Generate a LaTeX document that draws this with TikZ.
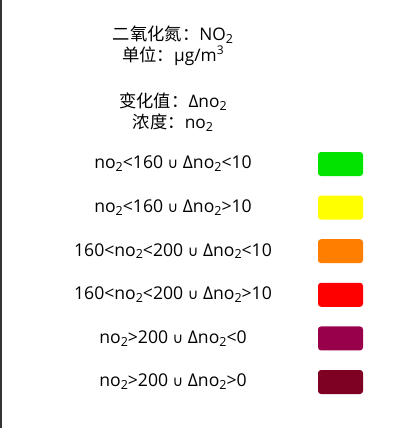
\documentclass[tikz,border=0pt]{standalone}
\usepackage{fontspec}
\setmainfont{Open Sans}
\newfontfamily\cjk{Noto Sans CJK SC}
\newfontfamily\symf{DejaVu Sans}
\usepackage{xcolor}
\usetikzlibrary{positioning}
\definecolor{lvgood}{HTML}{00E400}
\definecolor{lvfair}{HTML}{FFFF00}
\definecolor{lvlight}{HTML}{FF7E00}
\definecolor{lvmid}{HTML}{FF0000}
\definecolor{lvheavy}{HTML}{99004C}
\definecolor{lvsevere}{HTML}{7E0023}
\newcommand{\lsub}[1]{\raisebox{-0.3ex}{\fontsize{12.5}{14}\selectfont #1}}
\newcommand{\lsup}[1]{\raisebox{0.8ex}{\fontsize{12}{14}\selectfont #1}}
\newcommand{\orsym}{{\symf\fontsize{14.5}{16}\selectfont ∪}}

\begin{document}
\begin{tikzpicture}[x=1pt,y=-1pt,
    legtext/.style={inner sep=0pt, font=\fontsize{17.6}{19}\selectfont},
    headtext/.style={legtext, font=\fontsize{17.3}{19}\selectfont},
    swatch/.style={rounded corners=3pt, minimum width=45pt, minimum height=24pt, inner sep=0pt}]
  \useasboundingbox (0,0) rectangle (400,428);
  % 左の枠線
  \draw[line width=1.5pt, black!80] (1,0) -- (1,428);

  % 見出し
  \node[headtext] (head1) at (173,35) {{\cjk 二氧化氮：}NO\lsub{2}};
  \node[headtext] (head2) at (173,56) {{\cjk 单位：}μg/m\lsup{3}};
  \node[headtext] (head3) at (173,102) {{\cjk 变化值：}Δno\lsub{2}};
  \node[headtext] (head4) at (173,123) {{\cjk 浓度：}no\lsub{2}};

  % 凡例
  \foreach \col/\txt [count=\i] in {
      lvgood/{no\lsub{2}<160 \orsym{} Δno\lsub{2}<10},
      lvfair/{no\lsub{2}<160 \orsym{} Δno\lsub{2}>10},
      lvlight/{160<no\lsub{2}<200 \orsym{} Δno\lsub{2}<10},
      lvmid/{160<no\lsub{2}<200 \orsym{} Δno\lsub{2}>10},
      lvheavy/{no\lsub{2}>200 \orsym{} Δno\lsub{2}<0},
      lvsevere/{no\lsub{2}>200 \orsym{} Δno\lsub{2}>0}} {
    \node[legtext] (key\i) at (173,{164+43.6*(\i-1)}) {\txt};
    \node[swatch, fill=\col] (sw\i) at (340.5,{164+43.6*(\i-1)}) {};
  }
\end{tikzpicture}
\end{document}
